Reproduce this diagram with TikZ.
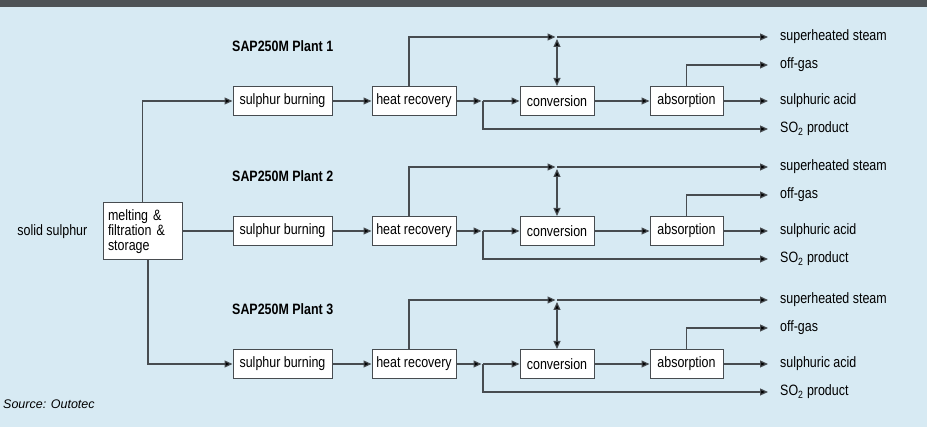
\documentclass[tikz,border=0pt]{standalone}
\usepackage{fontspec}
\setmainfont[FakeStretch=0.83]{Liberation Sans}
\newfontfamily\srcfont{Liberation Sans}
\usetikzlibrary{arrows.meta,positioning}
\definecolor{bgblue}{HTML}{D7EAF3}
\definecolor{topbar}{HTML}{4E5356}
\definecolor{linegray}{HTML}{474C50}
\tikzset{
  unit/.style={draw=linegray, fill=white, line width=1pt, minimum height=29pt, inner sep=0pt},
  flow/.style={draw=linegray, line width=1.2pt, -{Triangle[length=8pt,width=7pt,fill=black]}},
  twoway/.style={draw=linegray, line width=1.2pt, {Triangle[length=8pt,width=7pt,fill=black]}-{Triangle[length=8pt,width=7pt,fill=black]}},
  outtext/.style={inner sep=0pt, anchor=west},
}

\begin{document}
\begin{tikzpicture}[x=1pt,y=-1pt,font=\fontsize{15}{15}\selectfont]
    % Draw background
    \fill[bgblue] (0,0) rectangle (927,427);
    \fill[topbar] (0,0) rectangle (927,7);
    \useasboundingbox (0,0) rectangle (927,427);
    % Draw feed
    \node[unit, minimum width=79pt, minimum height=57pt, text width=69pt, align=left] (melt) at (142.5,231.5) {melting \&\\ filtration \&\\ storage};
    \node[left=15pt of melt, inner sep=0pt] (feed) {solid sulphur};
    \node[outtext, font=\srcfont\itshape\fontsize{12.5}{14}\selectfont] (src) at (3,404) {Source: Outotec};
    % Draw the three plants
    \foreach \p/\y in {1/101, 2/231, 3/364} {
        \node[outtext, font=\fontsize{15}{15}\selectfont\bfseries] (lbl\p) at (232,\y-55) {SAP250M Plant \p};
        \node[unit, minimum width=99pt] (sb\p) at (282.5,\y) {sulphur burning};
        \node[unit, minimum width=84pt] (hr\p) at (414,\y) {heat recovery};
        \node[unit, minimum width=74pt] (cv\p) at (557,\y) {conversion};
        \node[unit, minimum width=73pt] (ab\p) at (686.5,\y) {absorption};
        \coordinate (j\p) at (483,\y);
        \coordinate (sj\p) at (557,\y-64);
        \node[outtext] (st\p) at (780,\y-64) {superheated steam};
        \node[outtext] (og\p) at (780,\y-36) {off-gas};
        \node[outtext] (sa\p) at (780,\y) {sulphuric acid};
        \node[outtext] (so\p) at (780,\y+28) {SO\textsubscript{2} product};
        % Draw main line
        \draw[flow] (sb\p) -- (hr\p);
        \draw[flow, shorten >=1.5pt] (hr\p) -- (j\p);
        \draw[flow] (j\p) -- (cv\p);
        \draw[flow] (cv\p) -- (ab\p);
        \draw[flow, shorten >=12pt] (ab\p) -- (sa\p.west);
        % Draw side streams
        \draw[flow, shorten >=12pt] (ab\p.north) |- (og\p.west);
        \draw[flow, shorten >=12pt] (j\p) |- (so\p.west);
        \draw[flow, shorten >=1.5pt] ([xshift=-5pt]hr\p.north) |- (sj\p);
        \draw[flow, shorten >=12pt] (sj\p) -- (st\p.west);
        \draw[twoway, shorten <=2pt] (sj\p) -- (cv\p.north);
    }
    % Draw feed lines
    \draw[flow] (melt.north) |- (sb1.west);
    \draw[draw=linegray, line width=1.2pt] (melt.east |- sb2.west) -- (sb2.west);
    \draw[flow] ([xshift=5.5pt]melt.south) |- (sb3.west);
\end{tikzpicture}
\end{document}
